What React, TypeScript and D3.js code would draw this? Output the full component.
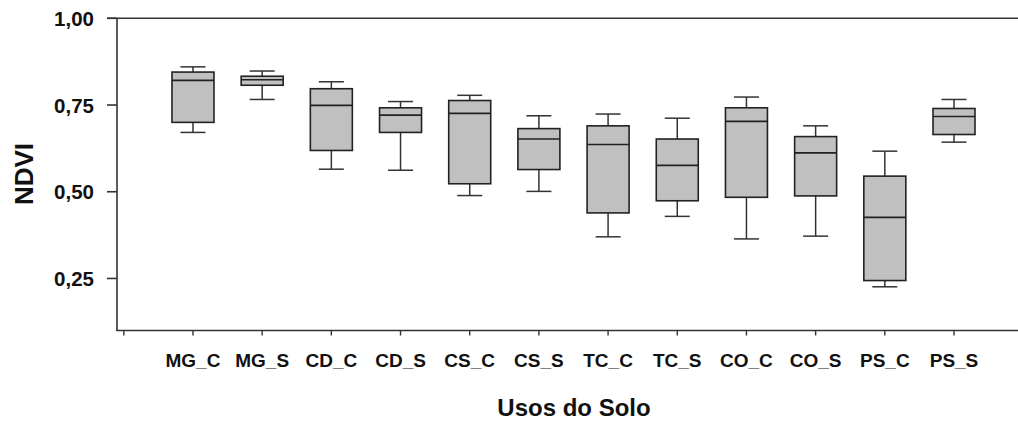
import React from "react";
import * as d3 from "d3";

const categories = ["MG_C", "MG_S", "CD_C", "CD_S", "CS_C", "CS_S", "TC_C", "TC_S", "CO_C", "CO_S", "PS_C", "PS_S"];
const whiskerLow = [0.671, 0.766, 0.565, 0.562, 0.489, 0.501, 0.370, 0.429, 0.364, 0.372, 0.226, 0.643];
const q1 = [0.700, 0.807, 0.619, 0.671, 0.523, 0.564, 0.439, 0.474, 0.484, 0.488, 0.244, 0.665];
const median = [0.821, 0.823, 0.749, 0.721, 0.726, 0.652, 0.636, 0.576, 0.703, 0.612, 0.426, 0.717];
const q3 = [0.845, 0.833, 0.797, 0.742, 0.763, 0.682, 0.690, 0.652, 0.742, 0.659, 0.545, 0.740];
const whiskerHigh = [0.860, 0.848, 0.817, 0.760, 0.778, 0.719, 0.724, 0.712, 0.773, 0.690, 0.617, 0.766];
const yTicks = [0.25, 0.5, 0.75, 1.0];
const yTickLabels = ["0,25", "0,50", "0,75", "1,00"];

const W = 1018;
const H = 421;
const axisX = 117;
const axisBottom = 330.5;
const font = "'Liberation Sans', Arial, sans-serif";
const lineColor = "#333";

export default function App() {
  const y = d3.scaleLinear().domain([0.1, 1.0]).range([axisBottom, 18.3]);
  const x = d3.scaleLinear().domain([0, 12]).range([123.8, 954]);
  const boxW = 42;
  const capW = 25;
  const xTickIdx = d3.range(0, 13);

  return (
    <svg width={W} height={H} style={{ position: "absolute", left: 0, top: 0, background: "#fff" }}>
      <line x1={107} x2={W} y1={y(1.0)} y2={y(1.0)} stroke={lineColor} strokeWidth={1.6} />
      <line x1={axisX} x2={axisX} y1={y(1.0)} y2={axisBottom} stroke={lineColor} strokeWidth={1.6} />
      <line x1={axisX - 0.8} x2={W} y1={axisBottom} y2={axisBottom} stroke={lineColor} strokeWidth={1.6} />
      {yTicks.map((t, i) => (
        <g key={t}>
          <line x1={107} x2={axisX} y1={y(t)} y2={y(t)} stroke={lineColor} strokeWidth={1.6} />
          <text x={94} y={y(t)} dy="0.37em" textAnchor="end" fontFamily={font} fontWeight="bold" fontSize={20.5} fill="#111">
            {yTickLabels[i]}
          </text>
        </g>
      ))}
      {xTickIdx.map((i) => (
        <line key={i} x1={x(i)} x2={x(i)} y1={axisBottom} y2={axisBottom + 5} stroke={lineColor} strokeWidth={1.4} />
      ))}
      {categories.map((c, i) => (
        <text key={c} x={x(i + 1)} y={367} textAnchor="middle" fontFamily={font} fontWeight="bold" fontSize={19} fill="#111">
          {c}
        </text>
      ))}
      {categories.map((c, i) => {
        const cx = x(i + 1);
        return (
          <g key={"b" + c}>
            <line x1={cx} x2={cx} y1={y(whiskerHigh[i])} y2={y(q3[i])} stroke={lineColor} strokeWidth={1.5} />
            <line x1={cx} x2={cx} y1={y(q1[i])} y2={y(whiskerLow[i])} stroke={lineColor} strokeWidth={1.5} />
            <line x1={cx - capW / 2} x2={cx + capW / 2} y1={y(whiskerHigh[i])} y2={y(whiskerHigh[i])} stroke={lineColor} strokeWidth={1.5} />
            <line x1={cx - capW / 2} x2={cx + capW / 2} y1={y(whiskerLow[i])} y2={y(whiskerLow[i])} stroke={lineColor} strokeWidth={1.5} />
            <rect x={cx - boxW / 2} y={y(q3[i])} width={boxW} height={y(q1[i]) - y(q3[i])} fill="#c0c0c0" stroke="#222" strokeWidth={1.6} />
            <line x1={cx - boxW / 2} x2={cx + boxW / 2} y1={y(median[i])} y2={y(median[i])} stroke="#222" strokeWidth={1.6} />
          </g>
        );
      })}
      <text x={574} y={416} textAnchor="middle" fontFamily={font} fontWeight="bold" fontSize={24} fill="#111">
        Usos do Solo
      </text>
      <text transform="translate(33,174) rotate(-90)" textAnchor="middle" fontFamily={font} fontWeight="bold" fontSize={26} fill="#111">
        NDVI
      </text>
    </svg>
  );
}
